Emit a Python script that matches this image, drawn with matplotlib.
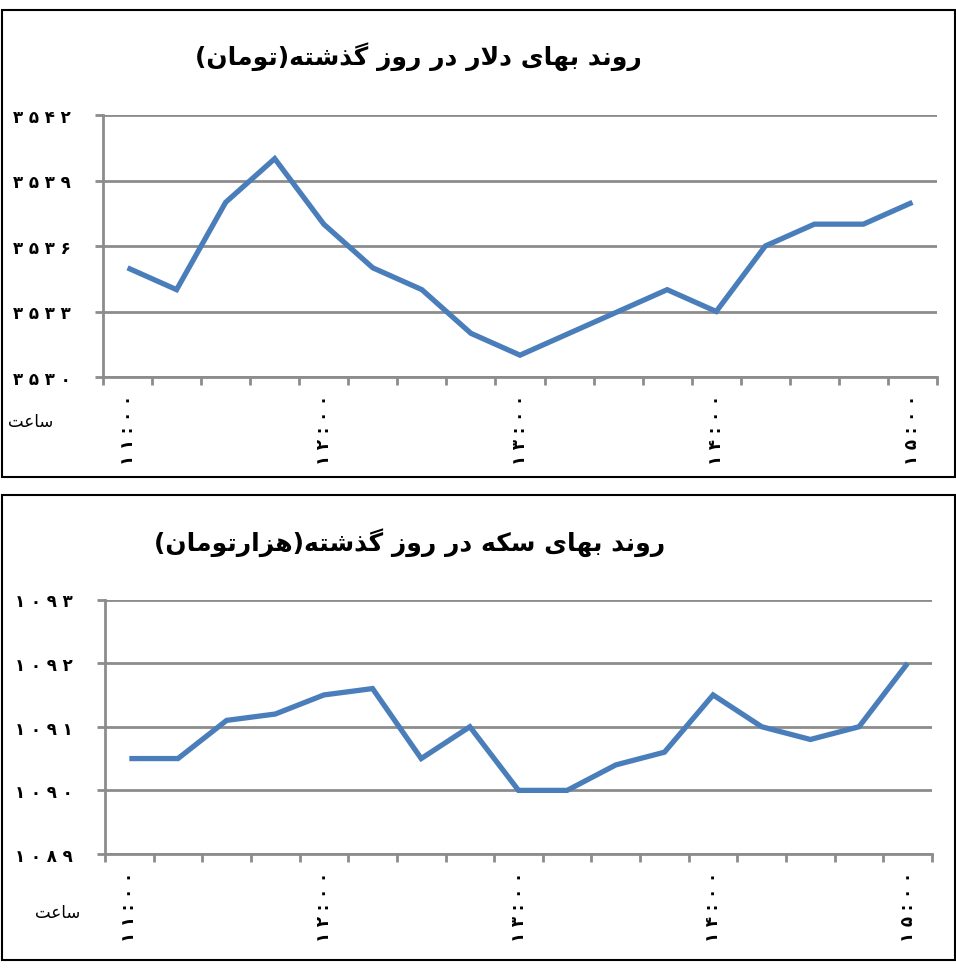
import matplotlib
matplotlib.use("Agg")
import matplotlib.pyplot as plt
from matplotlib.patches import Rectangle

# ---- data ----
dollar_title = "روند بهای دلار در روز گذشته(تومان)"
coin_title = "روند بهای سکه در روز گذشته(هزارتومان)"
xlabel_text = "ساعت"
hour_labels = ["11:00", "12:00", "13:00", "14:00", "15:00"]

dollar_vals = [3535, 3534, 3538, 3540, 3537, 3535, 3534, 3532, 3531,
               3532, 3533, 3534, 3533, 3536, 3537, 3537, 3538]
dollar_ticks = [3530, 3533, 3536, 3539, 3542]

coin_vals = [1090.5, 1090.5, 1091.1, 1091.2, 1091.5, 1091.6, 1090.5, 1091.0, 1090.0,
             1090.0, 1090.4, 1090.6, 1091.5, 1091.0, 1090.8, 1091.0, 1092.0]
coin_ticks = [1089, 1090, 1091, 1092, 1093]

LINE = "#4a7ebb"
GRID = "#8c8c8c"

# ---- tiny persian shaper (matplotlib has no arabic shaping) ----
FORMS = {  # isolated, final, initial, medial
    "ا": ("\ufe8d", "\ufe8e", None, None),
    "ب": ("\ufe8f", "\ufe90", "\ufe91", "\ufe92"),
    "ت": ("\ufe95", "\ufe96", "\ufe97", "\ufe98"),
    "د": ("\ufea9", "\ufeaa", None, None),
    "ذ": ("\ufeab", "\ufeac", None, None),
    "ر": ("\ufead", "\ufeae", None, None),
    "ز": ("\ufeaf", "\ufeb0", None, None),
    "س": ("\ufeb1", "\ufeb2", "\ufeb3", "\ufeb4"),
    "ش": ("\ufeb5", "\ufeb6", "\ufeb7", "\ufeb8"),
    "ع": ("\ufec9", "\ufeca", "\ufecb", "\ufecc"),
    "ل": ("\ufedd", "\ufede", "\ufedf", "\ufee0"),
    "م": ("\ufee1", "\ufee2", "\ufee3", "\ufee4"),
    "ن": ("\ufee5", "\ufee6", "\ufee7", "\ufee8"),
    "ه": ("\ufee9", "\ufeea", "\ufeeb", "\ufeec"),
    "و": ("\ufeed", "\ufeee", None, None),
    "ک": ("\ufb8e", "\ufb8f", "\ufb90", "\ufb91"),
    "گ": ("\ufb92", "\ufb93", "\ufb94", "\ufb95"),
    "ی": ("\ufbfc", "\ufbfd", "\ufbfe", "\ufbff"),
    "لا": ("\ufefb", "\ufefc", None, None),
}
MIRROR = {"(": ")", ")": "("}


def shape(text):
    chars = []
    i = 0
    while i < len(text):
        if text[i] == "ل" and i + 1 < len(text) and text[i + 1] == "ا":
            chars.append("لا")
            i += 2
        else:
            chars.append(text[i])
            i += 1
    out = []
    for k, c in enumerate(chars):
        if c not in FORMS:
            out.append(MIRROR.get(c, c))
            continue
        prev = chars[k - 1] if k > 0 else None
        nxt = chars[k + 1] if k + 1 < len(chars) else None
        join_prev = prev in FORMS and FORMS[prev][2] is not None
        join_next = nxt in FORMS and FORMS[c][2] is not None
        iso, fin, ini, med = FORMS[c]
        if join_prev and join_next:
            out.append(med)
        elif join_prev:
            out.append(fin)
        elif join_next:
            out.append(ini)
        else:
            out.append(iso)
    return "".join(reversed(out))


def fa_digits(s):
    return s.translate(str.maketrans("0123456789", "۰۱۲۳۴۵۶۷۸۹"))


fig = plt.figure(figsize=(9.56, 9.70), dpi=100)
W, H = 956.0, 970.0

# panel frames
for top, bot in [(11, 478), (496, 961)]:
    fig.patches.append(Rectangle((1.5 / W, 1 - bot / H), 953 / W, (bot - top) / H,
                                 transform=fig.transFigure, fill=False,
                                 edgecolor="black", linewidth=1.5))


def panel(rect, vals, ticks, title, title_xy, lab_xy):
    ax = fig.add_axes([rect[0] / W, 1 - rect[3] / H, (rect[2] - rect[0]) / W,
                       (rect[3] - rect[1]) / H])
    n = len(vals)
    ax.plot(range(n), vals, color=LINE, linewidth=3.8, solid_joinstyle="miter",
            solid_capstyle="butt", zorder=3)
    ax.set_xlim(-0.5, n - 0.5)
    ax.set_ylim(ticks[0], ticks[-1])
    ax.set_yticks(ticks)
    ax.set_yticklabels([" ".join(fa_digits(str(t))) for t in ticks],
                       fontsize=12, fontweight="bold")
    ax.set_xticks([k - 0.5 for k in range(n + 1)])
    ax.set_xticklabels([])
    ax.set_xticks(range(0, n, 4), minor=True)
    ax.set_xticklabels([" ".join(fa_digits(h)) for h in hour_labels], minor=True,
                       rotation=90, fontsize=12, fontweight="bold")
    ax.tick_params(axis="x", which="minor", length=0, pad=12)
    ax.tick_params(axis="x", which="major", length=6, width=2, color=GRID)
    ax.tick_params(axis="y", length=6, width=2, color=GRID, pad=17)
    ax.grid(axis="y", color=GRID, linewidth=2)
    ax.set_axisbelow(True)
    for s in ["top", "right"]:
        ax.spines[s].set_visible(False)
    for s in ["left", "bottom"]:
        ax.spines[s].set_color(GRID)
        ax.spines[s].set_linewidth(2)
    fig.text(title_xy[0] / W, 1 - title_xy[1] / H, shape(title), ha="center",
             va="center", fontsize=18, fontweight="bold")
    fig.text(lab_xy[0] / W, 1 - lab_xy[1] / H, shape(xlabel_text), ha="left",
             va="center", fontsize=12)
    return ax


panel((103, 116, 937, 378), dollar_vals, dollar_ticks, dollar_title, (418, 57), (8, 422))
panel((105, 600.5, 932, 855), coin_vals, coin_ticks, coin_title, (410, 543), (35, 913))

fig.savefig("out.png", dpi=100)
